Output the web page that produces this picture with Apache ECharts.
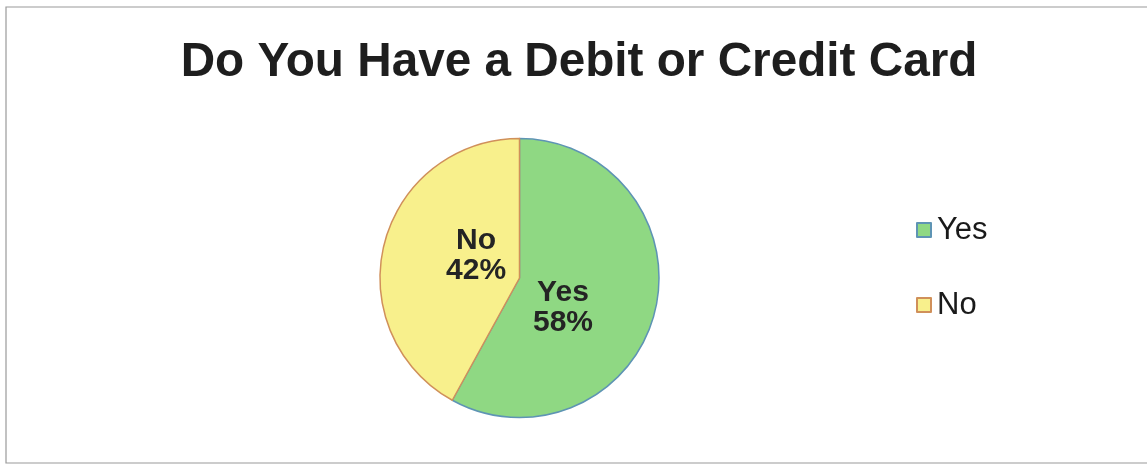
<!DOCTYPE html>
<html>
<head>
<meta charset="utf-8">
<script src="https://cdn.jsdelivr.net/npm/echarts@6/dist/echarts.min.js"></script>
<style>
  html, body { margin: 0; padding: 0; background: #fff; }
  #chart { width: 1147px; height: 467px; }
</style>
</head>
<body>
<div id="chart"></div>
<script>
// Survey answers and their shares (percent)
const categories = ['Yes', 'No'];
const shares = [58, 42];

const fills = ['#8fd883', '#f8f08c'];
const edges = ['#5e94b4', '#d0905a'];
// nudges that move each inside label toward where it sits in the slice
const labelOffsets = [[-27, 12], [27, -4]];

const chart = echarts.init(document.getElementById('chart'), null, { renderer: 'canvas' });

chart.setOption({
  animation: false,
  backgroundColor: '#ffffff',
  graphic: [{
    type: 'rect',
    shape: { x: 6, y: 7, width: 1150, height: 456 },
    style: { fill: 'none', stroke: '#9a9a9a', lineWidth: 1.2 },
    silent: true
  }],
  title: {
    text: 'Do You Have a Debit or Credit Card',
    left: 574,
    top: 34,
    textAlign: 'center',
    textStyle: {
      fontFamily: '"Liberation Sans", Arial, sans-serif',
      fontWeight: 'bold',
      fontSize: 47.7,
      color: '#1e1e1e'
    }
  },
  legend: {
    orient: 'vertical',
    left: 911,
    top: 209,
    icon: 'rect',
    itemWidth: 14,
    itemHeight: 14,
    itemGap: 43,
    data: categories,
    textStyle: {
      fontFamily: '"Liberation Sans", Arial, sans-serif',
      fontSize: 31,
      lineHeight: 32,
      color: '#1a1a1a',
      padding: [0, 0, 0, 1]
    }
  },
  series: [{
    type: 'pie',
    center: [519.5, 278],
    radius: 139.5,
    startAngle: 90,
    clockwise: true,
    avoidLabelOverlap: false,
    labelLine: { show: false },
    label: {
      show: true,
      position: 'inside',
      formatter: p => p.name + '\n' + p.value + '%',
      fontFamily: '"Liberation Sans", Arial, sans-serif',
      fontWeight: 'bold',
      fontSize: 30,
      lineHeight: 30,
      color: '#242424'
    },
    data: categories.map((name, i) => ({
      name: name,
      value: shares[i],
      itemStyle: { color: fills[i], borderColor: edges[i], borderWidth: 1.5 },
      label: { offset: labelOffsets[i] }
    }))
  }]
});
</script>
</body>
</html>
